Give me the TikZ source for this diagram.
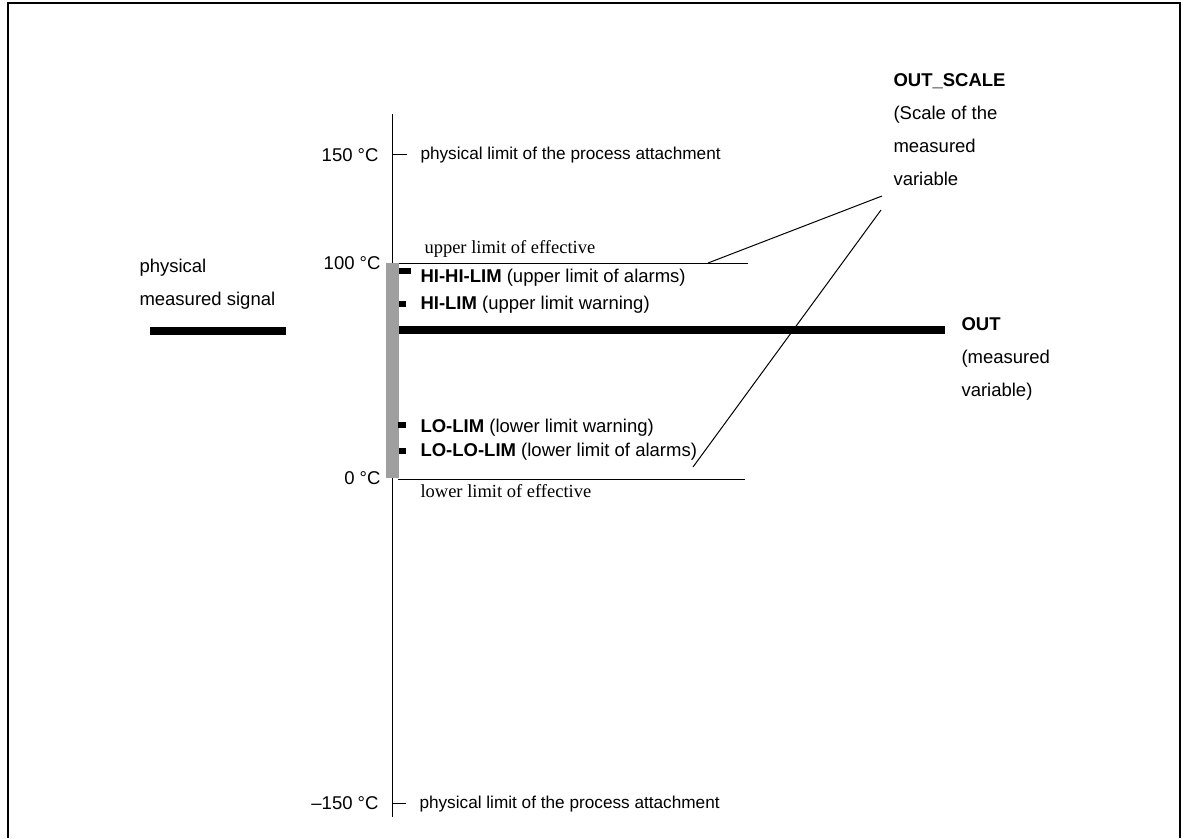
\documentclass[tikz,border=0pt]{standalone}
\usepackage{fontspec}
\setmainfont{Liberation Sans}
\newfontfamily\timesrm{Liberation Serif}
\usepackage{tikz}

\begin{document}
\begin{tikzpicture}[x = 1pt, y = -1pt, line width = 1pt,
  every node/.style = {inner sep = 0pt, font = \fontsize{18.5}{33}\selectfont},
  txt/.style = {anchor = base west, align = left},
  temp/.style = {anchor = base east},
  limbox/.style = {fill = black}]
\useasboundingbox (0,0) rectangle (1185,838);
\draw[line width = 2pt] (8,838) -- (8,3) -- (1180,3) -- (1180,838);
% scale axis and limit ticks
\draw (392,114) coordinate (top) -- (392,817) coordinate (bot);
\draw (392,154) -- (407,154) (392,803) -- (406,803);
\fill[gray!75] (386,263) rectangle (399,478);
\draw (399,263) coordinate (uA) -- (748,263) coordinate (uB);
\draw (398,479) coordinate (lA) -- (745,479) coordinate (lB);
% temperatures
\node[temp] (t150) at (379,161) {150 °C};
\node[temp] (t100) at (381,269) {100 °C};
\node[temp] (t0) at (381,484) {0 °C};
\node[temp] (tm150) at (379,809) {–150 °C};
% texts on the scale
\node[txt, font = \fontsize{17.2}{22}\selectfont] (phy1) at (420,159) {physical limit of the process attachment};
\node[txt, font = \fontsize{17.2}{22}\selectfont] (phy2) at (419,808) {physical limit of the process attachment};
\node[txt, font = \timesrm\fontsize{18.5}{22}\selectfont] (upeff) at (424,253) {upper limit of effective};
\node[txt, font = \timesrm\fontsize{18.5}{22}\selectfont] (loeff) at (420,497) {lower limit of effective};
\node[txt] (hihi) at (420,282) {\textbf{HI-HI-LIM} (upper limit of alarms)};
\node[txt] (hi) at (420,309) {\textbf{HI-LIM} (upper limit warning)};
\node[txt] (lo) at (420,432) {\textbf{LO-LIM} (lower limit warning)};
\node[txt] (lolo) at (420,456) {\textbf{LO-LO-LIM} (lower limit of alarms)};
\fill[limbox] (399,268) rectangle (411,274);
\fill[limbox] (399,301) rectangle (406,307);
\fill[limbox] (398,422) rectangle (406,428);
\fill[limbox] (399,448) rectangle (406,454);
% signal and output (base = last line)
\node[txt] (sig) at (139,305) {physical\\measured signal};
\draw[line width = 8pt] (150,331) coordinate (sA) -- (286,331) coordinate (sB);
\draw[line width = 8pt] (399,330) coordinate (oA) -- (945,330) coordinate (oB);
\node[txt] (out) at (961,396) {\textbf{OUT}\\(measured\\variable)};
\node[txt] (scale) at (893,185) {\textbf{OUT\_SCALE}\\(Scale of the\\measured\\variable};
\coordinate (scA) at (882,196);
\coordinate (scB) at (881,210);
\coordinate (upC) at (708,263);
\coordinate (loC) at (693,467);
\draw [-] (upC) -- (scA);
\draw [-] (loC) -- (scB);
\end{tikzpicture}
\end{document}
